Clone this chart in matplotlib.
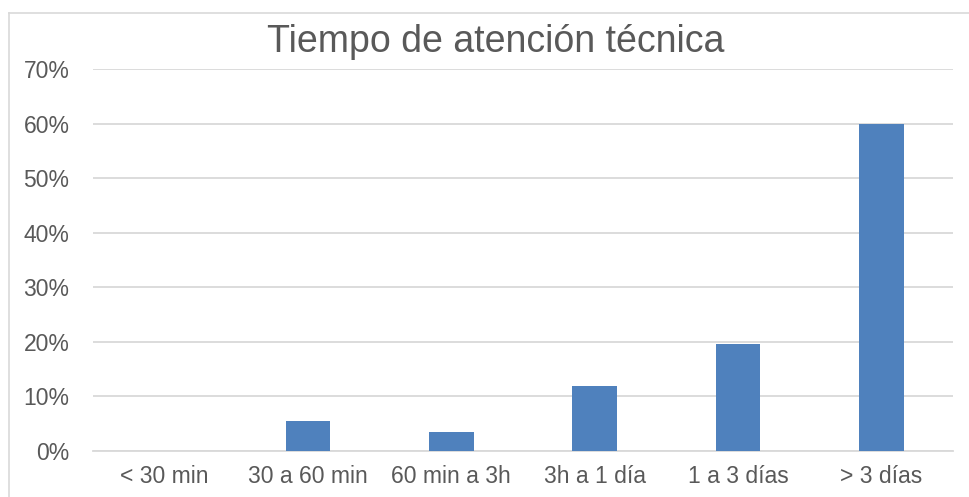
import matplotlib
matplotlib.use("Agg")
import matplotlib.pyplot as plt
from matplotlib.lines import Line2D
from matplotlib.ticker import FuncFormatter, MultipleLocator

categories = ["< 30 min", "30 a 60 min", "60 min a 3h", "3h a 1 día", "1 a 3 días", "> 3 días"]
shares = [0.0, 0.055, 0.034, 0.120, 0.196, 0.599]
title = "Tiempo de atención técnica"

bar_color = "#4f81bd"
grid_color = "#d9d9d9"
text_color = "#595959"

plt.rcParams["font.family"] = ["Liberation Sans", "DejaVu Sans"]

fig = plt.figure(figsize=(9.7, 4.97), dpi=100)
ax = fig.add_axes([93 / 970, 1 - 451 / 497, (953 - 93) / 970, (451 - 69) / 497])

x = range(len(categories))
ax.bar(x, shares, width=0.31, color=bar_color, zorder=3)

ax.set_xlim(-0.5, len(categories) - 0.5)
ax.set_ylim(0, 0.7)
ax.yaxis.set_major_locator(MultipleLocator(0.1))
ax.yaxis.set_major_formatter(FuncFormatter(lambda v, _: f"{round(v * 100)}%"))
ax.set_xticks(list(x))
ax.set_xticklabels(categories)

ax.grid(axis="y", color=grid_color, linewidth=1.3, zorder=0)
for side in ("top", "right", "left"):
    ax.spines[side].set_visible(False)
ax.spines["bottom"].set_color(grid_color)
ax.spines["bottom"].set_linewidth(1.3)
ax.tick_params(axis="both", length=0, labelsize=16.5, labelcolor=text_color)
ax.tick_params(axis="y", pad=17)
ax.tick_params(axis="x", pad=10)

fig.text(496 / 970, 1 - 42 / 497, title, ha="center", va="center",
         fontsize=27, color=text_color)

# chart frame (left and top edges)
bx = 9.5 / 970
by = 1 - 12.7 / 497
fig.add_artist(Line2D([bx, bx], [0, by], transform=fig.transFigure, color=grid_color, lw=1.2))
fig.add_artist(Line2D([bx, 1], [by, by], transform=fig.transFigure, color=grid_color, lw=1.2))

fig.savefig("out.png", dpi=100)
